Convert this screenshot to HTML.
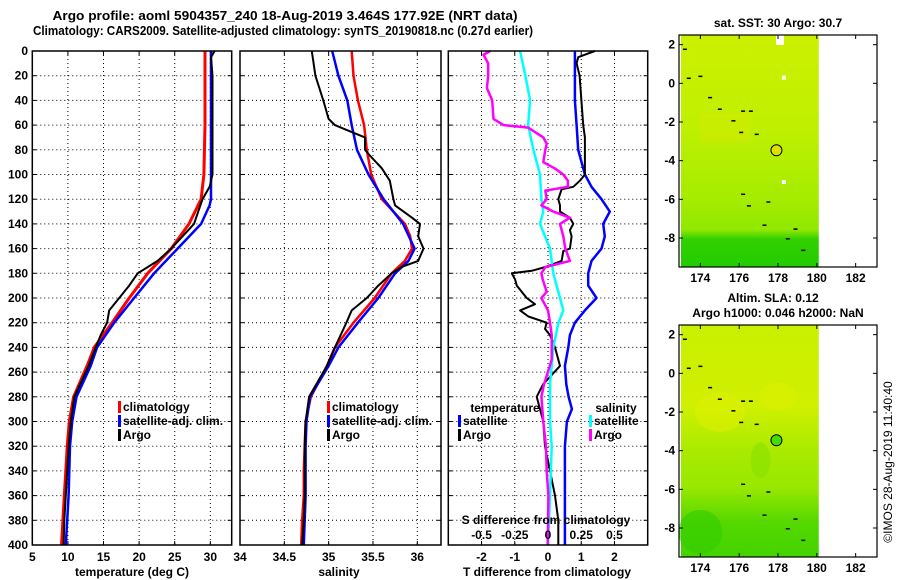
<!DOCTYPE html>
<html><head><meta charset="utf-8"><style>
body{margin:0;background:#fff;width:900px;height:580px;overflow:hidden}
svg{display:block;font-family:"Liberation Sans",sans-serif;font-weight:bold;font-size:12px}
</style></head><body>
<svg id="chart" width="900" height="580" viewBox="0 0 900 580" xmlns="http://www.w3.org/2000/svg">
<text x="285" y="20" text-anchor="middle" font-size="13" textLength="465" lengthAdjust="spacingAndGlyphs">Argo profile: aoml 5904357_240 18-Aug-2019 3.464S 177.92E (NRT data)</text>
<text x="283" y="35" text-anchor="middle" font-size="13" textLength="500" lengthAdjust="spacingAndGlyphs">Climatology: CARS2009. Satellite-adjusted climatology: synTS_20190818.nc (0.27d earlier)</text>
<g id="panels"></g>
<g id="maps"></g>
<text transform="translate(892,462) rotate(-90)" text-anchor="middle" font-weight="normal" font-size="12">©IMOS 28-Aug-2019 11:40:40</text>
</svg>
<script>
// ---------- data ----------
const depthTicks = [0,20,40,60,80,100,120,140,160,180,200,220,240,260,280,300,320,340,360,380,400];
const tempTicks = [5,10,15,20,25,30];
const salTicks = [34,34.5,35,35.5,36];
const tdiffTicks = [-2,-1,0,1,2];
const sdiffTicks = [-0.5,-0.25,0,0.25,0.5];
const sdiffTickLabels = ["-0.5","-0.25","0","0.25","0.5"];

const climTempDepth = [0,20,60,100,120,140,160,180,200,220,240,255,280,300,320,340,360,380,400];
const climTemp      = [29.25,29.25,29.25,29.1,28.7,27.0,24.5,21.2,18.6,16.2,13.7,12.7,10.8,10.2,9.9,9.7,9.5,9.3,9.1];
const satTempDepth  = [0,20,60,100,120,125,140,160,180,200,220,240,255,280,300,320,340,360,380,400];
const satTemp       = [30.1,30.1,30.1,30.1,30.1,29.9,28.7,25.4,22.1,19.3,16.5,14.1,13.2,11.2,10.6,10.3,10.2,10.1,9.9,9.7];
const argoTempDepth = [0,5,20,60,100,110,120,140,150,160,170,180,190,200,210,220,230,240,255,280,300,320,340,360,380,400];
const argoTemp      = [30.6,30.1,30.3,30.3,30.3,29.9,28.9,27.7,26.1,24.5,22.6,19.8,18.6,17.2,15.8,15.5,14.6,13.9,12.9,10.9,10.4,10.1,9.9,9.7,9.5,9.4];

const climSalDepth = [0,20,40,60,80,100,120,140,150,160,170,180,200,220,240,255,280,300,320,340,360,380,400];
const climSal      = [35.26,35.28,35.33,35.40,35.43,35.48,35.60,35.86,35.92,35.94,35.86,35.71,35.52,35.28,35.07,34.98,34.80,34.74,34.73,34.72,34.72,34.70,34.69];
const satSalDepth  = [0,20,40,60,80,100,120,140,160,170,180,200,220,240,255,280,300,320,340,360,380,400];
const satSal       = [35.04,35.11,35.21,35.26,35.32,35.45,35.62,35.84,35.97,35.90,35.75,35.56,35.33,35.11,35.00,34.79,34.75,34.74,34.74,34.74,34.73,34.72];
const argoSalDepth = [0,20,40,55,60,65,70,80,85,95,105,120,125,135,140,150,160,170,175,180,190,200,210,220,240,255,280,300,320,340,360,380,400];
const argoSal      = [34.81,34.85,34.94,35.0,35.07,35.24,35.41,35.41,35.47,35.60,35.69,35.73,35.75,35.94,36.03,36.01,36.07,36.01,35.82,35.71,35.56,35.43,35.26,35.20,35.07,34.98,34.78,34.74,34.73,34.73,34.73,34.72,34.70];

const satTdiffDepth = [0,40,60,80,100,110,120,130,140,150,160,170,180,190,200,210,220,230,240,255,270,280,290,300,320,340,360,380,400];
const satTdiff      = [0.81,0.81,0.86,0.91,1.11,1.31,1.61,1.86,1.66,1.71,1.61,1.31,1.21,1.21,1.46,1.11,0.81,0.66,0.61,0.51,0.55,0.62,0.72,0.57,0.51,0.51,0.51,0.51,0.51];
const argoTdiffDepth = [0,3,5,10,20,60,70,100,105,110,112,120,125,130,135,140,145,150,160,162,170,175,178,180,185,190,195,200,205,210,215,220,225,230,240,255,270,280,290,300,320,340,360,380,400];
const argoTdiff      = [1.41,1.11,0.91,0.86,0.95,1.06,1.11,1.11,0.96,0.76,0.41,0.31,0.36,0.36,0.66,0.76,0.66,0.71,0.66,0.46,0.41,-0.09,-0.49,-1.09,-0.99,-0.94,-0.79,-0.64,-0.39,-0.84,-0.59,-0.04,-0.09,0.06,0.21,0.36,-0.15,-0.34,-0.24,-0.14,-0.09,0.06,0.21,0.31,0.31];
const satSdiffDepth = [0,20,40,60,80,100,120,130,140,160,180,200,210,220,240,255,270,300,320,360,400];
const satSdiff      = [-0.21,-0.17,-0.135,-0.15,-0.11,-0.06,-0.05,-0.035,-0.06,0.015,0.04,0.09,0.115,0.078,0.04,0.028,0.015,0.015,0.028,0.015,0.0];
const argoSdiffDepth = [0,3,10,20,30,40,55,60,62,70,75,80,90,95,100,105,110,113,120,125,130,135,140,150,160,170,175,180,185,195,200,210,220,230,250,270,280,300,320,340,360,400];
const argoSdiff      = [-0.435,-0.485,-0.45,-0.45,-0.46,-0.42,-0.41,-0.335,-0.15,-0.035,-0.01,-0.02,-0.035,0.05,0.115,0.15,0.15,-0.02,-0.01,-0.05,0.04,0.165,0.09,0.115,0.13,0.165,-0.02,-0.05,-0.04,-0.01,-0.05,0.0,0.015,0.028,0.028,-0.03,-0.05,-0.035,-0.015,-0.01,0.003,-0.002];

const mapLonTicks = [174,176,178,180,182];
const mapLatTicks = [2,0,-2,-4,-6,-8];
const argoLon = 177.92, argoLat = -3.464;

// ---------- helpers ----------
const NS = "http://www.w3.org/2000/svg";
function mk(tag, attrs, parent){const e=document.createElementNS(NS,tag);for(const k in attrs)e.setAttribute(k,attrs[k]);parent.appendChild(e);return e;}
const TOP=51, BOT=545;
const yDepth = d => TOP + d*(BOT-TOP)/400;
function lin(d0,d1,p0,p1){return v=>p0+(v-d0)*(p1-p0)/(d1-d0);}

const panelsG = document.getElementById('panels');
function panel(name, x0, x1, xs, ticks, labels, showY){
  const g = mk('g',{},panelsG);
  
  
  // grid
  ticks.forEach(t=>{const x=xs(t); if(x>x0+1&&x<x1-1){mk('line',{x1:x,x2:x,y1:TOP,y2:BOT,stroke:'#000','stroke-dasharray':'1,3','stroke-width':1},g);
    mk('line',{x1:x,x2:x,y1:BOT,y2:BOT-4,stroke:'#000'},g);mk('line',{x1:x,x2:x,y1:TOP,y2:TOP+4,stroke:'#000'},g);}});
  depthTicks.forEach(d=>{const y=yDepth(d); if(d>0&&d<400){mk('line',{x1:x0,x2:x1,y1:y,y2:y,stroke:'#000','stroke-dasharray':'1,3','stroke-width':1},g);
    mk('line',{x1:x0,x2:x0+4,y1:y,y2:y,stroke:'#000'},g);mk('line',{x1:x1-4,x2:x1,y1:y,y2:y,stroke:'#000'},g);}
    if(showY){const t=mk('text',{x:28,y:y+4,'text-anchor':'end'},g);t.textContent=d;}});
  ticks.forEach((t,i)=>{const tx=mk('text',{x:xs(t),y:561,'text-anchor':'middle'},g);tx.textContent=labels[i];
    });
  return g;
}
function series(g, name, xs, vals, depths, color, w){
  const pts = vals.map((v,i)=>xs(v).toFixed(1)+','+yDepth(depths[i]).toFixed(1)).join(' ');
  const p = mk('polyline',{points:pts,fill:'none',stroke:color,'stroke-width':w,'stroke-linejoin':'round'},g);
  
  
}
function frame(g,x0,x1){mk('rect',{x:x0,y:TOP,width:x1-x0,height:BOT-TOP,fill:'none',stroke:'#000','stroke-width':1.5},g);}
function legendRow(g, x, y, color, label){
  if(color){mk('rect',{x:x-5,y:y-10,width:3,height:12,fill:color},g);}
  const t=mk('text',{x:x,y:y},g);t.textContent=label;
  
  
}
function label(g,x,y,txt,name){const t=mk('text',{x:x,y:y,'text-anchor':'middle'},g);t.textContent=txt;
  }

// Panel 1 temperature
const xT = lin(5,33,32.3,231.7);
const p1 = panel('temperature-panel',32.3,231.7,xT,tempTicks,tempTicks.map(String),true);
series(p1,'climatology-temperature-line',xT,climTemp,climTempDepth,'#ff0000',3);
series(p1,'satellite-temperature-line',xT,satTemp,satTempDepth,'#0000ff',2.5);
series(p1,'argo-temperature-line',xT,argoTemp,argoTempDepth,'#000',2);
frame(p1,32.3,231.7);
legendRow(p1,123,411,'#ff0000','climatology');
legendRow(p1,123,425,'#0000ff','satellite-adj. clim.');
legendRow(p1,123,439,'#000','Argo');
label(p1,132,576,'temperature (deg C)','x-axis-title-temperature');

// Panel 2 salinity
const xS = lin(34,36,240,417.3);
const p2 = panel('salinity-panel',240,441,xS,salTicks,salTicks.map(String),false);
series(p2,'climatology-salinity-line',xS,climSal,climSalDepth,'#ff0000',2.5);
series(p2,'satellite-salinity-line',xS,satSal,satSalDepth,'#0000ff',2.5);
series(p2,'argo-salinity-line',xS,argoSal,argoSalDepth,'#000',2);
frame(p2,240,441);
legendRow(p2,332,411,'#ff0000','climatology');
legendRow(p2,332,425,'#0000ff','satellite-adj. clim.');
legendRow(p2,332,439,'#000','Argo');
label(p2,339,576,'salinity','x-axis-title-salinity');

// Panel 3 differences
const xD = lin(-3,3,448.3,647.7);
const xSD = v => xD(v*4);
const p3 = panel('difference-panel',448.3,647.7,xD,tdiffTicks,tdiffTicks.map(String),false);
series(p3,'satellite-t-diff-line',xD,satTdiff,satTdiffDepth,'#0000ff',2.5);
series(p3,'argo-t-diff-line',xD,argoTdiff,argoTdiffDepth,'#000',2);
series(p3,'satellite-s-diff-line',xSD,satSdiff,satSdiffDepth,'#00ffff',2.5);
series(p3,'argo-s-diff-line',xSD,argoSdiff,argoSdiffDepth,'#ff00ff',2.5);
frame(p3,448.3,647.7);
label(p3,505,412,'temperature','legend-title-temperature');
legendRow(p3,463,425,'#0000ff','satellite');
legendRow(p3,463,439,'#000','Argo');
label(p3,616,412,'salinity','legend-title-salinity');
legendRow(p3,594,425,'#00ffff','satellite');
legendRow(p3,594,439,'#ff00ff','Argo');
label(p3,546,524,'S difference from climatology','s-axis-title');
sdiffTicks.forEach((s,i)=>label(p3,xSD(s),539,sdiffTickLabels[i],'s-tick-label'));
label(p3,547,576,'T difference from climatology','x-axis-title-tdiff');

// ---------- maps ----------
const mapsG = document.getElementById('maps');
const defs = mk('defs',{},mapsG);
function map(name, top, bottom, kind){
  const g = mk('g',{},mapsG);
  
  
  const mx = lin(172.9,183.1,679,877);
  const my = lin(2.5,-9.5,top,bottom);
  const gid = 'grad'+kind;
  const lg = mk('linearGradient',{id:gid,x1:0,y1:0,x2:0,y2:1},defs);
  const stops = kind==='sst'
    ? [[0,'#ccf000'],[0.4,'#bff000'],[0.7,'#a6ec00'],[0.84,'#90e800'],[0.88,'#33d000'],[1,'#22cc00']]
    : [[0,'#c8f000'],[0.35,'#d0f000'],[0.55,'#a8ea00'],[0.7,'#99e800'],[0.85,'#55d800'],[1,'#44d400']];
  stops.forEach(s=>mk('stop',{offset:s[0],'stop-color':s[1]},lg));
  mk('rect',{x:mx(172.9)+2,y:top,width:mx(180.1)-mx(172.9)-2,height:bottom-top,fill:'url(#'+gid+')'},g);
  if(kind==='sst'){
    mk('rect',{x:mx(177.9),y:top,width:8,height:10,fill:'#fff'},g);
    mk('rect',{x:mx(178.2),y:my(0.4),width:4,height:4,fill:'#fff'},g);
    mk('rect',{x:mx(178.2),y:my(-5),width:4,height:4,fill:'#fff'},g);
    mk('rect',{x:mx(174),y:my(-1.5),width:50,height:30,fill:'#d8e800',opacity:0.4},g);
  } else {
    mk('ellipse',{cx:mx(175),cy:my(-2),rx:25,ry:20,fill:'#dcf000',opacity:0.6},g);
    mk('ellipse',{cx:mx(178),cy:my(-1.2),rx:18,ry:14,fill:'#dcf000',opacity:0.6},g);
    mk('ellipse',{cx:mx(177.1),cy:my(-4.5),rx:10,ry:18,fill:'#88e000',opacity:0.6},g);
    mk('ellipse',{cx:mx(174),cy:my(-8.2),rx:22,ry:22,fill:'#33cc00',opacity:0.6},g);
  }
  // coast dots
  [[173.1,1.8],[173.3,0.3],[173.9,0.4],[174.4,-0.7],[174.9,-1.3],[175.6,-1.9],[176.1,-1.4],[176.5,-1.4],[176.0,-2.5],[176.8,-2.6],[176.1,-5.7],[176.4,-6.3],[177.4,-6.1],[177.2,-7.3],[178.4,-8.0],[178.8,-7.5],[179.2,-8.6]].forEach(c=>
    mk('rect',{x:mx(c[0]),y:my(c[1]),width:4,height:1.5,fill:'#000'},g));
  const dot = mk('circle',{cx:mx(argoLon),cy:my(argoLat),r:5.5,fill:kind==='sst'?'#e0e000':'#44dd00',stroke:'#000','stroke-width':1},g);
  
  
  mk('rect',{x:679,y:top,width:198,height:bottom-top,fill:'none',stroke:'#000','stroke-width':1.2},g);
  mapLonTicks.forEach(l=>{const x=mx(l);mk('line',{x1:x,x2:x,y1:top,y2:top+4,stroke:'#000'},g);mk('line',{x1:x,x2:x,y1:bottom,y2:bottom-4,stroke:'#000'},g);
    if(kind==='sst'||true){const t=mk('text',{x:x,y:bottom+15,'text-anchor':'middle'},g);t.textContent=l;}});
  mapLatTicks.forEach(l=>{const y=my(l);mk('line',{x1:679,x2:683,y1:y,y2:y,stroke:'#000'},g);mk('line',{x1:873,x2:877,y1:y,y2:y,stroke:'#000'},g);
    const t=mk('text',{x:675,y:y+4,'text-anchor':'end'},g);t.textContent=l;});
  return g;
}
const m1 = map('sst-map',35,267,'sst');
label(m1,778,27,'sat. SST: 30 Argo: 30.7','sst-map-title');
const m2 = map('sla-map',325,557,'sla');
label(m2,773,302,'Altim. SLA: 0.12','sla-map-title');
label(m2,778,317,'Argo h1000: 0.046 h2000: NaN','sla-map-subtitle');
</script>
</body></html>
